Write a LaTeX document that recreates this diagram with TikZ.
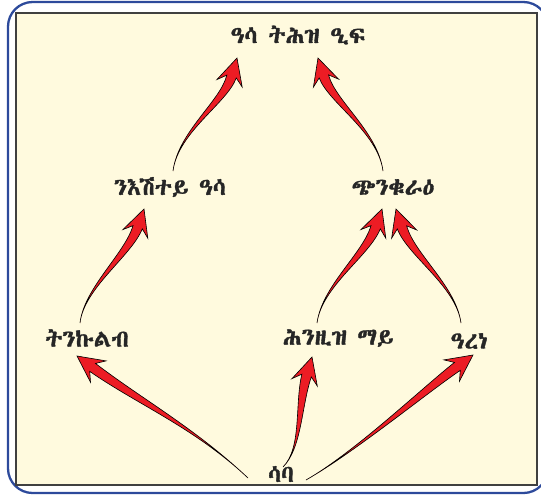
\documentclass[tikz,border=0pt]{standalone}
\usepackage{fontspec}
\IfFontExistsTF{Abyssinica SIL}{%
  \newfontfamily\ethfont{Abyssinica SIL}[Script=Ethiopic, FakeBold=1.5]}{%
  \IfFontExistsTF{FreeSerif}{%
    \newfontfamily\ethfont{FreeSerif}[Script=Ethiopic, FakeBold=1.5]}{%
    \IfFontExistsTF{NotoSansEthiopic-Regular.ttf}{%
      \newfontfamily\ethfont{NotoSansEthiopic-Regular.ttf}}{%
      \newfontfamily\ethfont{DejaVu Sans}}}}
\usepackage{xcolor}
\usepackage{tikz}
\usetikzlibrary{calc, positioning}

\definecolor{arrowred}{HTML}{EC1C24}
\definecolor{paper}{HTML}{FFFADE}
\definecolor{frameblue}{HTML}{2D4A9B}

% tapered red arrow: tail, first control, second control, tip
\newcommand{\redarrow}[4]{%
  \coordinate (hb) at ($(#4)!11pt!(#3)$);
  \coordinate (hw) at ($(#4)!15pt!(#3)$);
  \filldraw[arrowbody] (#1)
    .. controls (#2) and ($(#3)!2pt!90:(#4)$) .. ($(hb)!2.8pt!90:(#4)$)
    -- ($(hw)!7.5pt!90:(#4)$) -- (#4) -- ($(hw)!7.5pt!-90:(#4)$)
    -- ($(hb)!2.8pt!-90:(#4)$)
    .. controls ($(#3)!2pt!-90:(#4)$) and (#2) .. (#1) -- cycle;
}

\begin{document}
\begin{tikzpicture}[
  x=0.02cm, y=-0.02cm,
  font=\ethfont\fontsize{13.5}{15}\selectfont,
  chainlabel/.style={
    inner sep=1pt,
    text=black!85
  },
  arrowbody/.style={
    fill=arrowred,
    draw=black,
    line width=0.35pt,
    line join=miter
  }
]
\useasboundingbox (0,0) rectangle (541,495);

% frame
\draw[frameblue, line width=1.3pt, rounded corners=14pt] (8,2) rectangle (548,493);
\draw[fill=paper, draw=black!75, line width=0.8pt] (16,13) rectangle (537,485);

% food chain nodes
\node[chainlabel] (bird) at (298,35) {ዓሳ ትሕዝ ዒፍ};
\node[chainlabel] (fish) at (170,187) {ንእሽተይ ዓሳ};
\node[chainlabel] (frog) at (393,187) {ጭንቁራዕ};
\node[chainlabel] (tadpole) at (87,338) {ትንኩልብ};
\node[chainlabel] (insect) at (338,338) {ሕንዚዝ ማይ};
\node[chainlabel] (snail) at (469,341) {ዓረነ};
\node[chainlabel] (algae) at (281,474) {ሳባ};

% arrow ends
\coordinate (algaeL) at (248,478);
\coordinate (algaeM) at (283,467);
\coordinate (algaeR) at (306,480);
\coordinate (tadpoleU) at (80,323);
\coordinate (tadpoleD) at (77,356);
\coordinate (insectU) at (317,323);
\coordinate (insectD) at (312,357);
\coordinate (snailU) at (461,323);
\coordinate (snailD) at (473,355);
\coordinate (fishU) at (173,171);
\coordinate (fishD) at (144,209);
\coordinate (frogU) at (383,171);
\coordinate (frogDL) at (382,209);
\coordinate (frogDR) at (396,209);
\coordinate (birdL) at (237,58);
\coordinate (birdR) at (318,58);

\redarrow{algaeL}{195,428}{140,402}{tadpoleD}
\redarrow{algaeM}{302,448}{298,405}{insectD}
\redarrow{algaeR}{355,452}{425,390}{snailD}
\redarrow{tadpoleU}{84,288}{128,255}{fishD}
\redarrow{fishU}{178,132}{224,102}{birdL}
\redarrow{frogU}{378,132}{332,102}{birdR}
\redarrow{insectU}{322,286}{366,255}{frogDL}
\redarrow{snailU}{456,286}{411,255}{frogDR}

\end{tikzpicture}
\end{document}
